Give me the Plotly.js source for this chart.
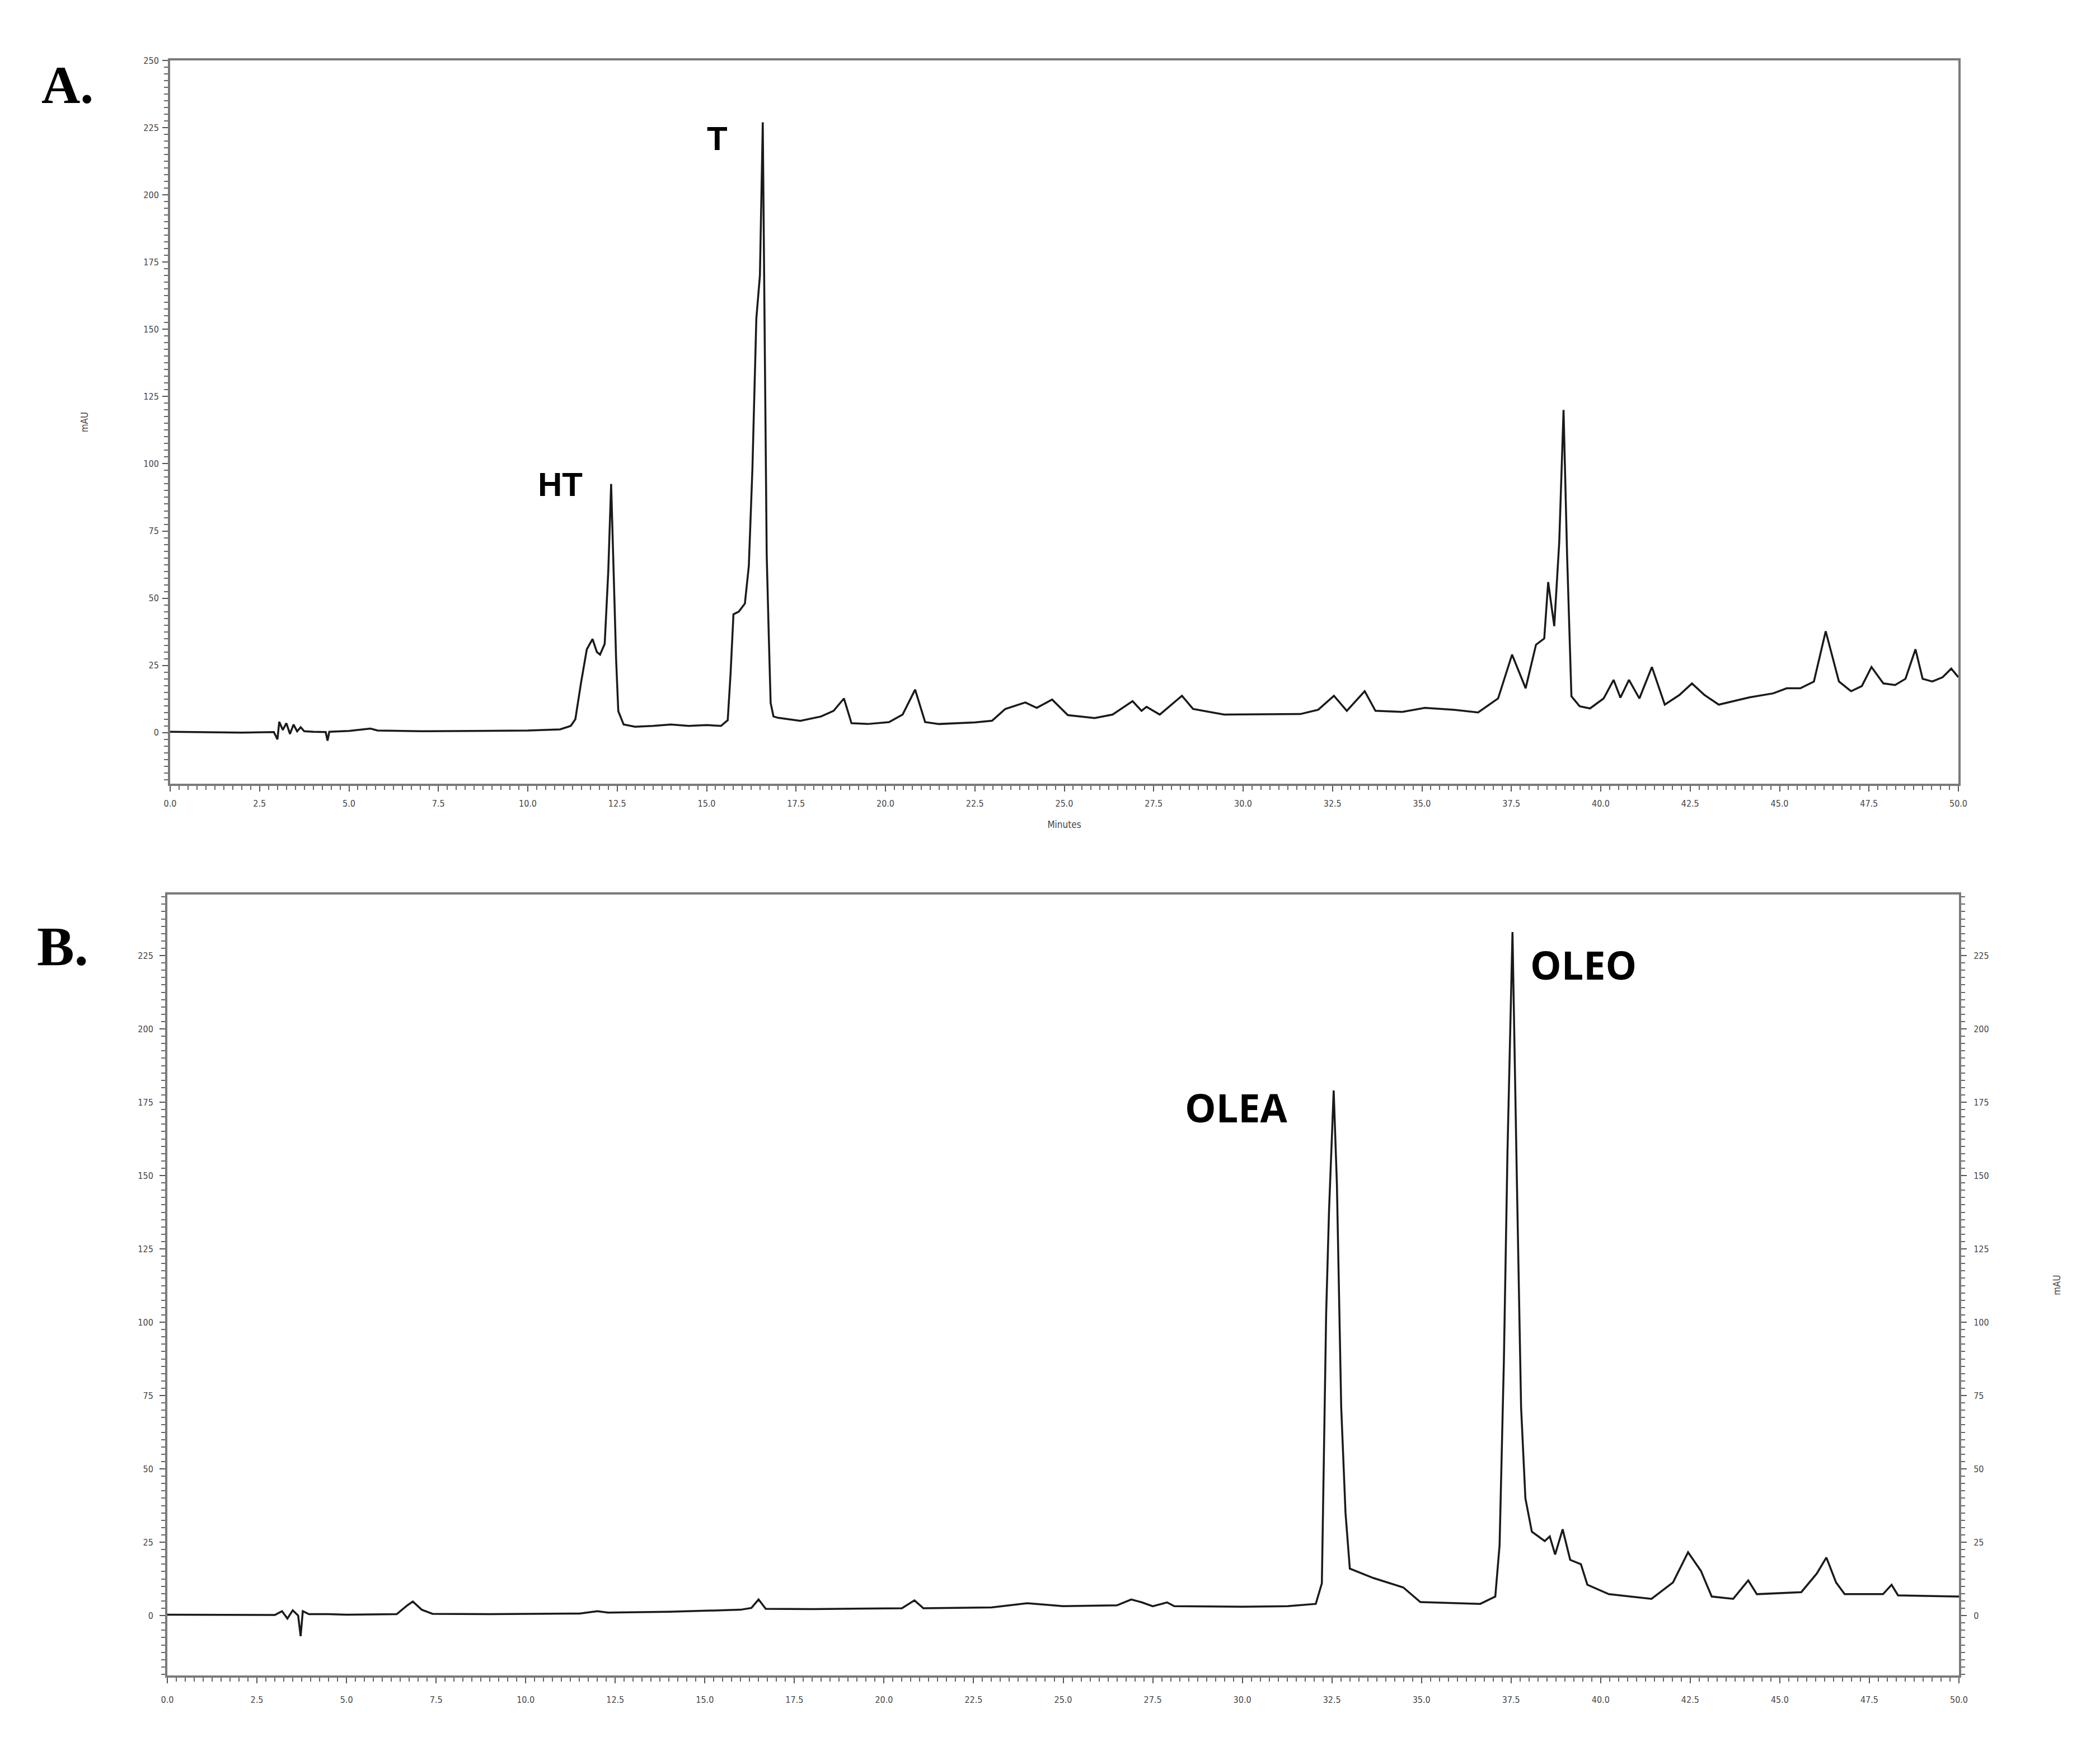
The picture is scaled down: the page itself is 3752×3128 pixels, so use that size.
<!DOCTYPE html>
<html>
<head>
<meta charset="utf-8">
<script src="https://cdn.plot.ly/plotly-3.0.1.min.js"></script>
<style>
html,body{margin:0;padding:0;background:#ffffff;}
#chart{width:3752px;height:3128px;}
</style>
</head>
<body>
<div id="chart"></div>
<script>
// ---- Panel A chromatogram (minutes, mAU) ----
const timeA = [0.0,1.0,2.0,2.9,3.0,3.05,3.15,3.25,3.35,3.45,3.55,3.65,3.75,4.0,4.35,4.4,4.45,5.0,5.4,5.6,5.8,7.0,8.5,10.0,10.9,11.2,11.33,11.49,11.65,11.81,11.93,12.02,12.15,12.25,12.33,12.39,12.47,12.53,12.68,13.0,13.5,14.0,14.5,15.0,15.4,15.59,15.67,15.75,15.9,16.07,16.18,16.28,16.39,16.49,16.57,16.63,16.68,16.74,16.79,16.87,17.0,17.62,18.2,18.55,18.84,19.05,19.5,20.1,20.48,20.83,21.11,21.5,22.5,22.98,23.35,23.91,24.23,24.66,25.1,25.85,26.35,26.91,27.16,27.3,27.67,28.29,28.6,29.47,30.5,31.6,32.1,32.54,32.9,33.4,33.7,34.45,35.08,35.9,36.57,37.13,37.52,37.9,38.19,38.42,38.53,38.7,38.84,38.96,39.06,39.18,39.41,39.7,40.08,40.36,40.55,40.79,41.08,41.43,41.79,42.2,42.55,42.9,43.3,44.16,44.82,45.2,45.58,45.96,46.29,46.66,47.0,47.3,47.57,47.9,48.23,48.52,48.8,49.0,49.27,49.56,49.8,50.0];
const mAU_A = [0.3,0.2,0.0,0.2,-2.5,4,1,3.5,-0.5,3,0.5,2,0.5,0.3,0.2,-3,0.3,0.6,1.2,1.5,0.8,0.5,0.6,0.8,1.2,2.5,5,18.7,31,34.8,30,29,33,60,92.5,62,27,8,3,2.2,2.5,3,2.5,2.8,2.5,4.6,22,44,45,48,62,98,154,170,227,138,66,35,11,6,5.5,4.4,6,8.1,12.7,3.5,3.2,3.9,6.7,16,3.9,3.2,3.8,4.4,8.8,11.2,9.2,12.3,6.5,5.4,6.7,11.7,8.1,9.6,6.7,13.7,8.8,6.7,6.8,6.9,8.5,13.7,8.1,15.4,8.1,7.7,9.2,8.5,7.5,12.7,29,16.5,32.7,35,56,39.6,71,120,65.6,13.5,9.8,9,12.7,19.6,13,19.6,12.7,24.4,10.4,14,18.3,14,10.4,13.1,14.6,16.5,16.5,19,37.7,19,15.4,17.3,24.4,18.3,17.7,20,31,20,19,20.6,23.8,20.6];

// ---- Panel B chromatogram (minutes, mAU) ----
const timeB = [0.0,1.5,3.0,3.2,3.35,3.5,3.65,3.72,3.78,3.95,4.5,5.0,6.4,6.7,6.85,7.1,7.4,9.0,11.5,12.0,12.3,14.0,16.0,16.3,16.5,16.7,18.0,20.5,20.85,21.1,23.0,24.0,25.0,26.5,26.9,27.2,27.5,27.9,28.1,30.0,31.27,32.05,32.22,32.34,32.42,32.55,32.64,32.76,32.88,33.0,33.66,34.49,34.73,34.97,36.64,37.06,37.18,37.3,37.4,37.54,37.66,37.78,37.9,38.08,38.44,38.58,38.73,38.94,39.15,39.45,39.63,40.23,41.42,42.02,42.44,42.8,43.1,43.7,44.12,44.36,45.6,46.03,46.3,46.57,46.81,47.88,48.12,48.3,49.92,50.0];
const mAU_B = [0.3,0.2,0.2,1.5,-1,1.8,0,-7,1.5,0.5,0.5,0.3,0.5,3.5,4.8,2,0.6,0.5,0.7,1.5,1.0,1.3,2.0,2.6,5.5,2.3,2.2,2.5,5.2,2.5,2.8,4.2,3.2,3.5,5.5,4.5,3.2,4.5,3.2,3.0,3.2,4,11,103,138,179,147,71,35,16,12.8,9.6,7,4.6,4.0,6.5,24,87,158,233,150,71,40,28.6,25.4,27,20.8,29.4,19,17.5,10.5,7.3,5.7,11.3,21.6,15.2,6.5,5.7,12,7.3,8,14.3,19.8,11.3,7.3,7.3,10.5,6.9,6.5,6.5];

// ---- Tick labels ----
const xTickVals = [0,2.5,5,7.5,10,12.5,15,17.5,20,22.5,25,27.5,30,32.5,35,37.5,40,42.5,45,47.5,50];
const xTickText = ['0.0','2.5','5.0','7.5','10.0','12.5','15.0','17.5','20.0','22.5','25.0','27.5','30.0','32.5','35.0','37.5','40.0','42.5','45.0','47.5','50.0'];
const yTickValsA = [0,25,50,75,100,125,150,175,200,225,250];
const yTickTextA = ['0','25','50','75','100','125','150','175','200','225','250'];
const yTickValsB = [0,25,50,75,100,125,150,175,200,225];
const yTickTextB = ['0','25','50','75','100','125','150','175','200','225'];

// ---- Peak labels ----
const peakLabelsA = [{text:'HT', t:10.9, v:92.3}, {text:'T', t:15.29, v:221}];
const peakLabelsB = [{text:'OLEA', t:29.83, v:173.3}, {text:'OLEO', t:39.52, v:222}];

const W = 3752, H = 3128;
const tickFont = {family:'DejaVu Sans Condensed, Liberation Sans Narrow, DejaVu Sans, sans-serif', size:16, color:'#444'};
const lineColor = '#7a7a7a';

function baseAxis(extra){
  return Object.assign({
    showline:true, linecolor:lineColor, linewidth:4,
    ticks:'outside', tickcolor:'#555', tickwidth:2, ticklen:10,
    showgrid:false, zeroline:false, tickfont:tickFont, fixedrange:true
  }, extra);
}

const traces = [
  {x:timeA, y:mAU_A, xaxis:'x', yaxis:'y', type:'scatter', mode:'lines',
   line:{color:'#1a1a1a', width:3.5}, hoverinfo:'skip', showlegend:false},
  {x:timeB, y:mAU_B, xaxis:'x2', yaxis:'y2', type:'scatter', mode:'lines',
   line:{color:'#1a1a1a', width:3.5}, hoverinfo:'skip', showlegend:false},
  // empty trace so the right-hand mAU axis of panel B is drawn
  {x:[], y:[], xaxis:'x2', yaxis:'y3', type:'scatter', mode:'lines', hoverinfo:'skip', showlegend:false}
];

const annotations = [];
peakLabelsA.forEach(p => annotations.push({xref:'x', yref:'y', x:p.t, y:p.v, text:p.text, showarrow:false,
  xanchor:'center', yanchor:'middle', font:{family:'Liberation Sans, Arial, sans-serif', size:60, color:'#000', weight:'bold'}}));
peakLabelsB.forEach(p => annotations.push({xref:'x2', yref:'y2', x:p.t, y:p.v, text:p.text, showarrow:false,
  xanchor:'center', yanchor:'middle', font:{family:'Open Sans, Noto Sans, sans-serif', size:70, color:'#000', weight:'bold'}}));
annotations.push({xref:'paper', yref:'paper', x:120/W, y:1-152/H, text:'A.', showarrow:false, xanchor:'center', yanchor:'middle',
  font:{family:'Liberation Serif, Times New Roman, serif', size:96, color:'#000', weight:'bold'}});
annotations.push({xref:'paper', yref:'paper', x:112/W, y:1-1690/H, text:'B.', showarrow:false, xanchor:'center', yanchor:'middle',
  font:{family:'Liberation Serif, Times New Roman, serif', size:100, color:'#000', weight:'bold'}});

const layout = {
  width:W, height:H,
  margin:{l:0, r:0, t:0, b:0, pad:0},
  paper_bgcolor:'#ffffff', plot_bgcolor:'#ffffff',
  showlegend:false,
  xaxis: baseAxis({domain:[304/W, 3499/W], range:[0,50], anchor:'y', mirror:true,
    tickmode:'array', tickvals:xTickVals, ticktext:xTickText, ticklabelstandoff:8,
    minor:{tickmode:'linear', tick0:0, dtick:0.25, ticks:'outside', ticklen:7, tickcolor:'#666', tickwidth:2},
    title:{text:'Minutes', font:{family:tickFont.family, size:17, color:'#444'}, standoff:24}}),
  yaxis: baseAxis({domain:[1-1400/H, 1-108/H], range:[-19,250], anchor:'x', mirror:true,
    tickmode:'array', tickvals:yTickValsA, ticktext:yTickTextA, ticklabelstandoff:3,
    minor:{tickmode:'linear', tick0:0, dtick:2.5, ticks:'outside', ticklen:7, tickcolor:'#666', tickwidth:2},
    title:{text:'mAU', font:{family:tickFont.family, size:17, color:'#444'}, standoff:95}}),
  xaxis2: baseAxis({domain:[299/W, 3500/W], range:[0,50], anchor:'y2', mirror:true,
    tickmode:'array', tickvals:xTickVals, ticktext:xTickText, ticklabelstandoff:16,
    minor:{tickmode:'linear', tick0:0, dtick:0.25, ticks:'outside', ticklen:7, tickcolor:'#666', tickwidth:2}}),
  yaxis2: baseAxis({domain:[1-2993/H, 1-1598/H], range:[-20.4,245.8], anchor:'x2', mirror:true,
    tickmode:'array', tickvals:yTickValsB, ticktext:yTickTextB, ticklabelstandoff:8,
    minor:{tickmode:'linear', tick0:0, dtick:2.5, ticks:'outside', ticklen:7, tickcolor:'#666', tickwidth:2}}),
  yaxis3: baseAxis({domain:[1-2993/H, 1-1598/H], range:[-20.4,245.8], anchor:'x2', overlaying:'y2', side:'right',
    tickmode:'array', tickvals:yTickValsB, ticktext:yTickTextB, ticklabelstandoff:9,
    minor:{tickmode:'linear', tick0:0, dtick:2.5, ticks:'outside', ticklen:7, tickcolor:'#666', tickwidth:2},
    title:{text:'mAU', font:{family:tickFont.family, size:17, color:'#444'}, standoff:117}}),
  annotations: annotations
};

Plotly.newPlot('chart', traces, layout, {staticPlot:true, displayModeBar:false});
</script>
</body>
</html>
